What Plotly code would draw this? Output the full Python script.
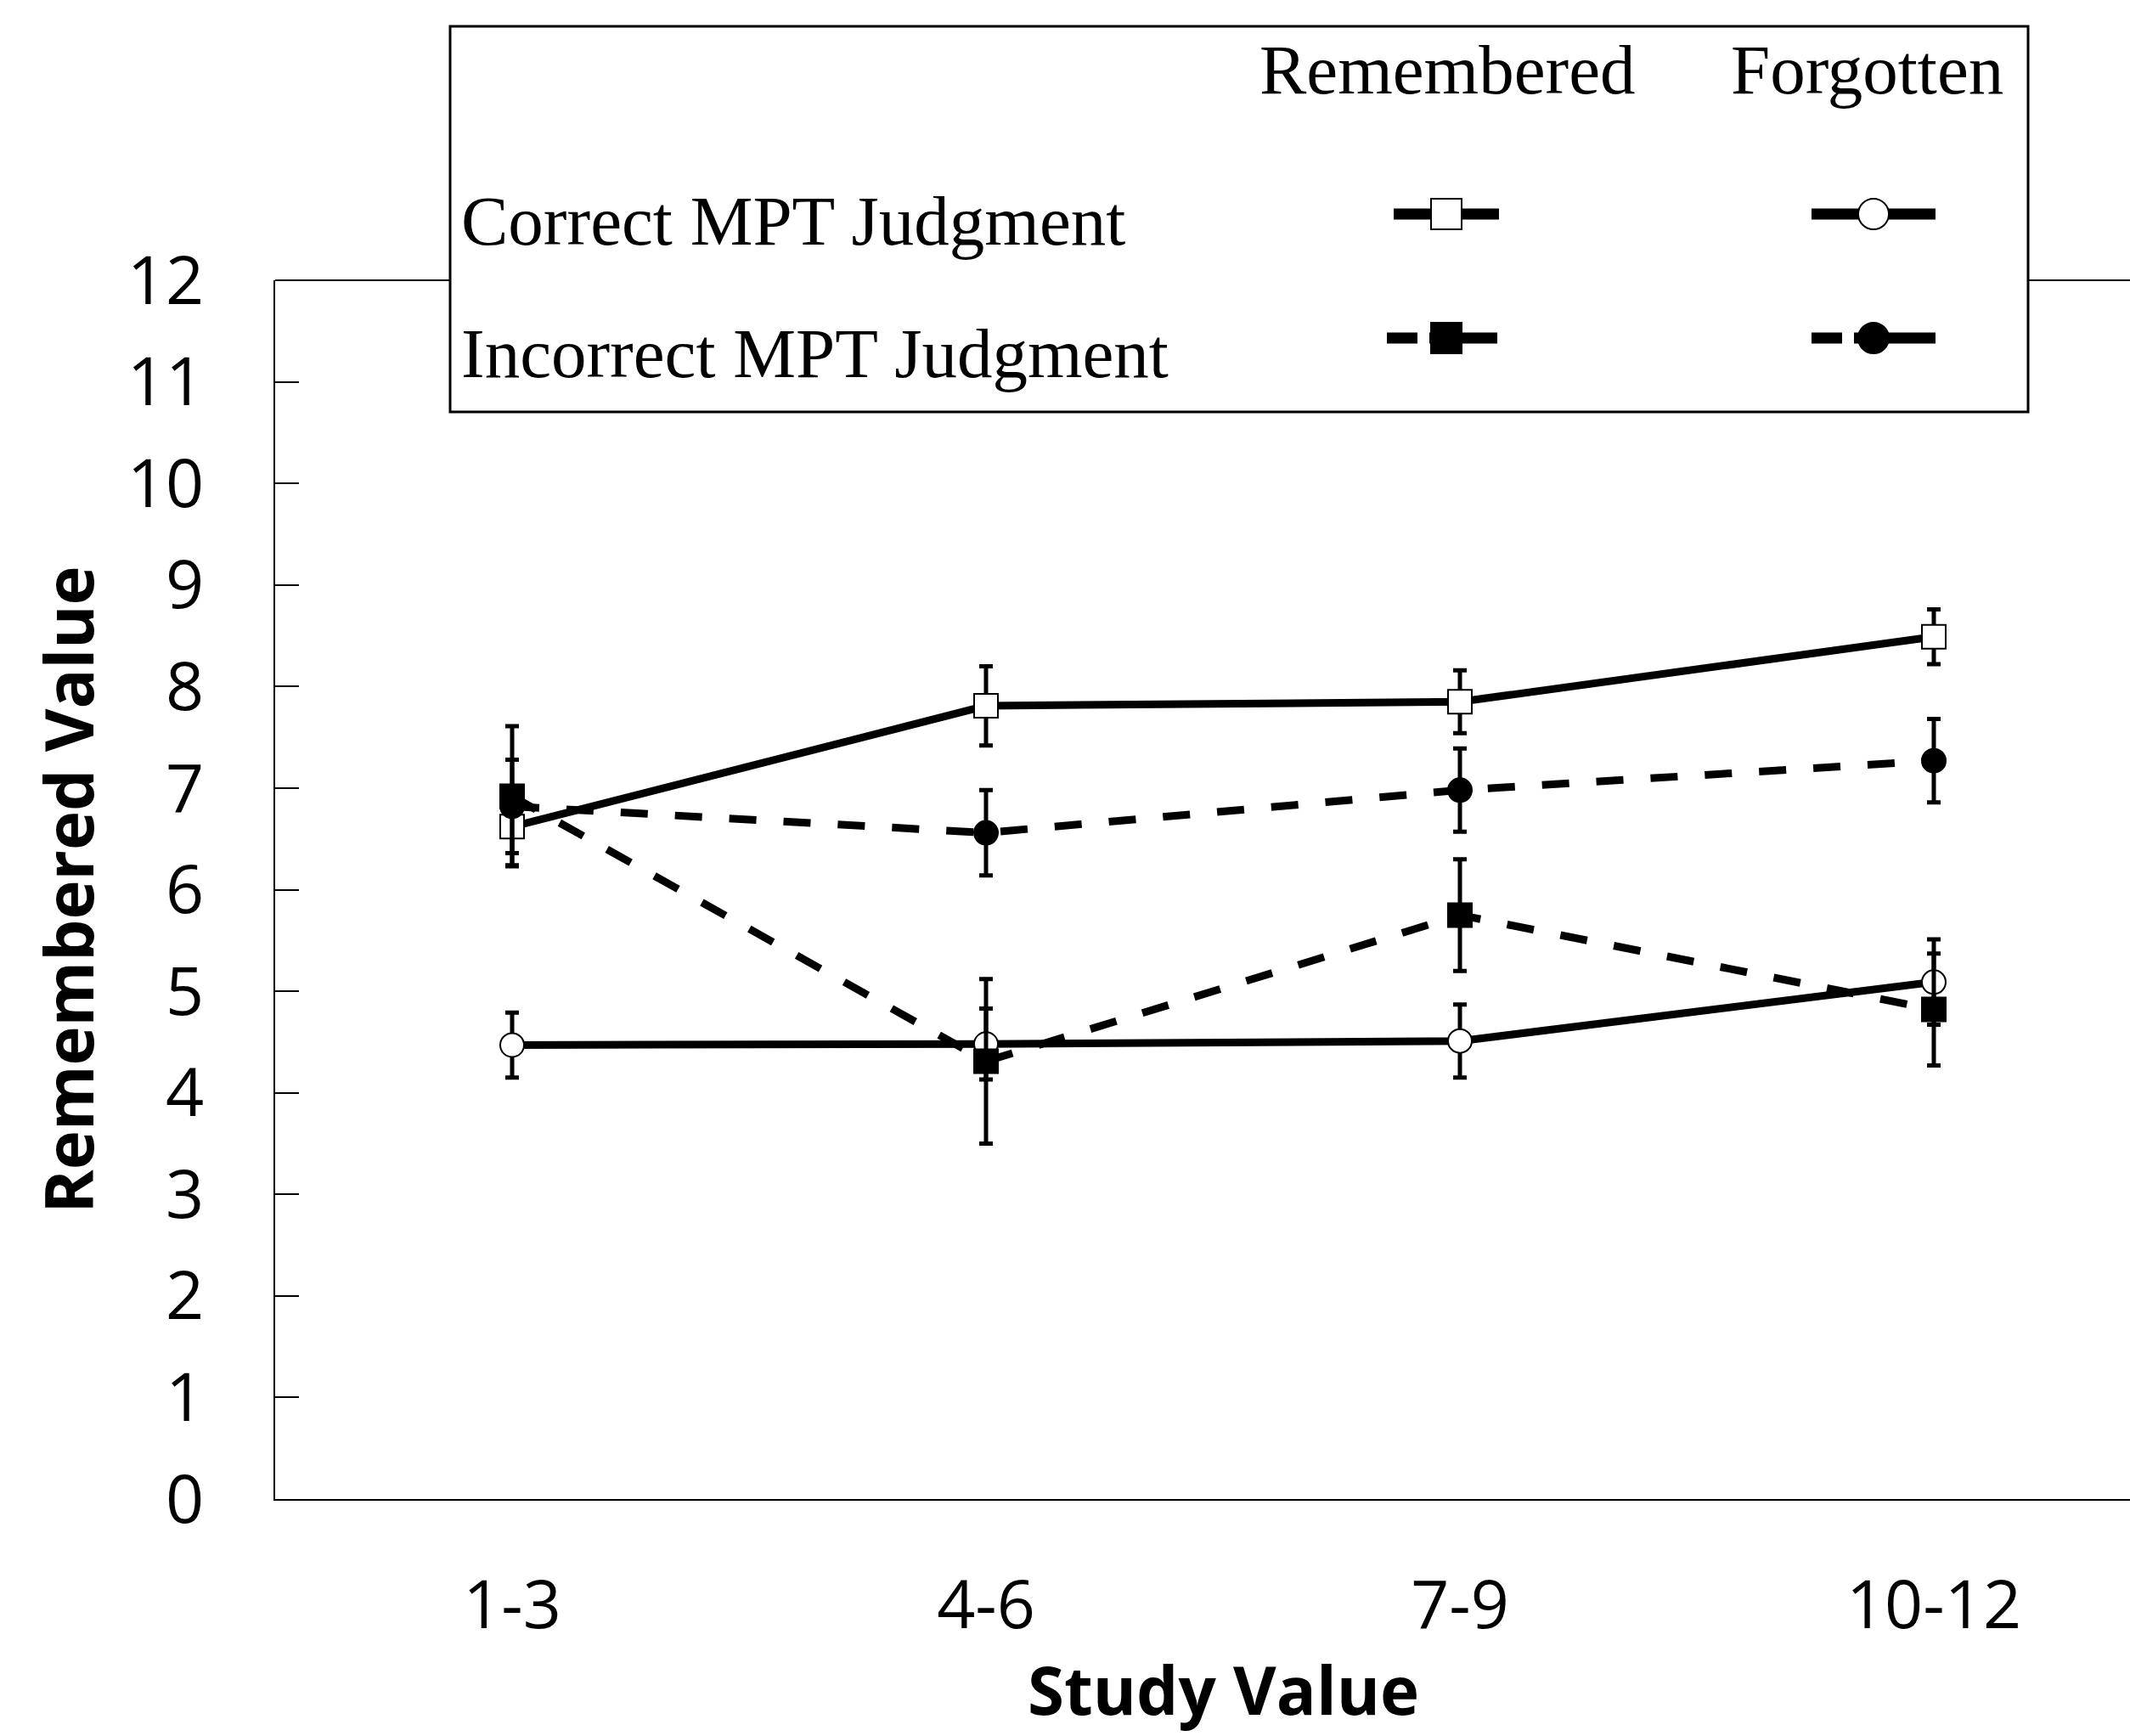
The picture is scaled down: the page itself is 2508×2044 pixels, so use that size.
import plotly.graph_objects as go

categories = ["1-3", "4-6", "7-9", "10-12"]

correct_remembered = [6.62, 7.81, 7.85, 8.49]
correct_remembered_err = [0.38, 0.39, 0.31, 0.27]
correct_forgotten = [4.47, 4.48, 4.51, 5.09]
correct_forgotten_err = [0.32, 0.35, 0.36, 0.42]
incorrect_remembered = [6.92, 4.31, 5.75, 4.82]
incorrect_remembered_err = [0.69, 0.81, 0.55, 0.55]
incorrect_forgotten = [6.82, 6.56, 6.98, 7.27]
incorrect_forgotten_err = [0.46, 0.42, 0.41, 0.41]

y_ticks = list(range(0, 13))
x_title = "Study Value"
y_title = "Remembered Value"

W, H = 2508, 2044
BLACK = "#000000"

fig = go.Figure()

series = [
    ("Correct MPT Judgment - Remembered", correct_remembered, correct_remembered_err, "square", "white", "solid"),
    ("Correct MPT Judgment - Forgotten", correct_forgotten, correct_forgotten_err, "circle", "white", "solid"),
    ("Incorrect MPT Judgment - Forgotten", incorrect_forgotten, incorrect_forgotten_err, "circle", BLACK, "32px,32px"),
    ("Incorrect MPT Judgment - Remembered", incorrect_remembered, incorrect_remembered_err, "square", BLACK, "32px,32px"),
]
for name, vals, errs, sym, fill, dash in series:
    fig.add_trace(go.Scatter(
        x=categories, y=vals, name=name, mode="lines+markers",
        line=dict(color=BLACK, width=9, dash=dash),
        marker=dict(symbol=sym, size=28, color=fill, line=dict(color=BLACK, width=2)),
        error_y=dict(type="data", array=errs, visible=True, color=BLACK, thickness=5, width=8),
        showlegend=False, xaxis="x", yaxis="y",
    ))

# ---- custom legend (grid) drawn in a hidden overlay axes ----
col_rem, col_for = 1703, 2206
row_cor, row_inc = 252, 398
leg_x = [
    ([col_rem - 62, col_rem + 62], row_cor, "square", "white", False),
    ([col_for - 73, col_for + 73], row_cor, "circle", "white", False),
    ([col_rem - 70, col_rem + 60], row_inc, "square", BLACK, True),
    ([col_for - 73, col_for + 73], row_inc, "circle", BLACK, True),
]
for (xs, yy, sym, fill, dashed) in leg_x:
    if dashed:
        lx = [xs[0], xs[0] + 36, None, xs[0] + 50, xs[1]]
        ly = [yy, yy, None, yy, yy]
    else:
        lx = [xs[0], xs[1]]
        ly = [yy, yy]
    fig.add_trace(go.Scatter(x=lx, y=ly, mode="lines", line=dict(color=BLACK, width=13),
                             showlegend=False, hoverinfo="skip", xaxis="x2", yaxis="y2"))
    fig.add_trace(go.Scatter(x=[col_rem if sym == "square" else col_for], y=[yy], mode="markers",
                             marker=dict(symbol=sym, size=36, color=fill, line=dict(color=BLACK, width=2)),
                             showlegend=False, hoverinfo="skip", xaxis="x2", yaxis="y2"))

serif = "Liberation Serif"
leg_font = dict(family=serif, size=83, color=BLACK)
annotations = [
    dict(text="Remembered", x=1704, y=82, xanchor="center", yanchor="middle"),
    dict(text="Forgotten", x=2198, y=82, xanchor="center", yanchor="middle"),
    dict(text="Correct MPT Judgment", x=541, y=260, xanchor="left", yanchor="middle"),
    dict(text="Incorrect MPT Judgment", x=541, y=416, xanchor="left", yanchor="middle"),
]
for a in annotations:
    a.update(xref="x2", yref="y2", showarrow=False, font=leg_font)

tick_font = dict(family="Open Sans", size=79, color=BLACK)
title_font = dict(family="Open Sans", size=78, color=BLACK, weight="bold")

# x-axis title (as annotation so it can sit low and centred like the original)
annotations.append(dict(text=x_title, xref="paper", yref="paper", x=1440 / W, y=0,
                        xanchor="center", yanchor="bottom", showarrow=False, font=title_font))

x0p = 324 / W
ytop = 1 - 330 / H
ybot = 1 - 1765 / H

shapes = [
    dict(type="line", xref="paper", yref="paper", x0=x0p, x1=1, y0=ytop, y1=ytop,
         line=dict(color=BLACK, width=2), layer="below"),
    dict(type="rect", xref="paper", yref="paper", x0=530 / W, x1=2388 / W,
         y0=1 - 485 / H, y1=1 - 31 / H, fillcolor="white",
         line=dict(color=BLACK, width=3), layer="below"),
]

fig.update_layout(
    width=W, height=H,
    margin=dict(l=0, r=0, t=0, b=0),
    paper_bgcolor="white", plot_bgcolor="rgba(0,0,0,0)",
    showlegend=False,
    xaxis=dict(
        domain=[x0p, 1], type="category", categoryarray=categories,
        range=[-0.5, -0.5 + (W - 324) / 558.0],
        showline=True, linecolor=BLACK, linewidth=2, mirror=False,
        showgrid=False, zeroline=False, ticks="", tickfont=tick_font,
        ticklabelstandoff=55, automargin=False,
        anchor="y",
    ),
    yaxis=dict(
        domain=[ybot, ytop], range=[0, 12], tickvals=y_ticks,
        showline=True, linecolor=BLACK, linewidth=2, mirror=False,
        showgrid=False, zeroline=False, ticks="inside", ticklen=28, tickwidth=2,
        tickcolor=BLACK, tickfont=tick_font, ticklabelstandoff=66, automargin=False,
        title=dict(text=y_title, font=title_font, standoff=14),
        anchor="x",
    ),
    xaxis2=dict(domain=[530 / W, 2388 / W], range=[530, 2388], visible=False,
                anchor="y2", fixedrange=True),
    yaxis2=dict(domain=[1 - 485 / H, 1 - 31 / H], range=[485, 31], visible=False,
                anchor="x2", fixedrange=True),
    annotations=annotations,
    shapes=shapes,
)

fig.write_html("out.html")
